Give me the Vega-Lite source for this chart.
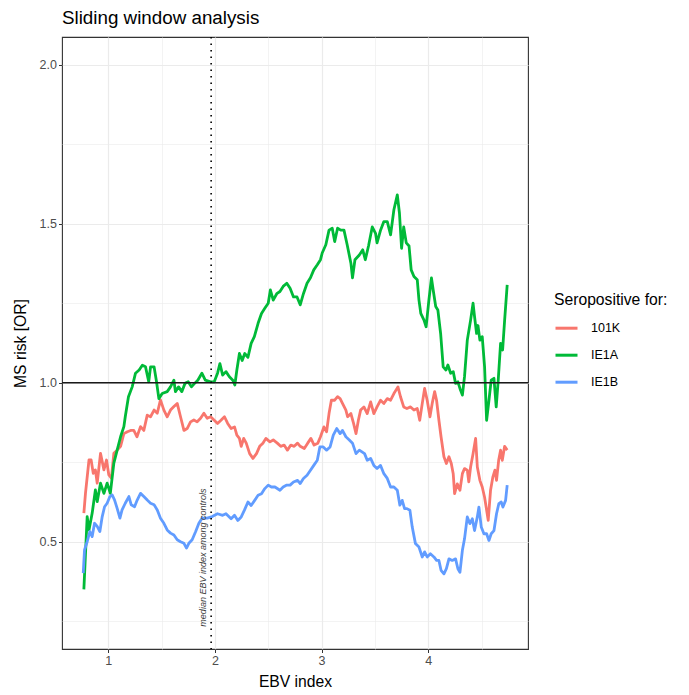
{
"$schema": "https://vega.github.io/schema/vega-lite/v6.json",
"width": 466, "height": 612,
"autosize": {"type": "none"},
"padding": {"left": 62, "top": 37, "right": 161, "bottom": 46},
"background": "white",
"title": {"text": "Sliding window analysis", "anchor": "start", "frame": "group", "fontSize": 18.8, "fontWeight": "normal", "font": "Liberation Sans", "color": "black", "offset": 8},
"config": {
 "view": {"stroke": "#333333", "strokeWidth": 1.1, "fill": "white"},
 "axis": {"domain": false, "gridColor": "#EBEBEB", "tickColor": "#333333", "tickSize": 3.5, "tickWidth": 1, "labelColor": "#4D4D4D", "labelFont": "Liberation Sans", "labelFontSize": 12.5, "labelPadding": 2, "titleFont": "Liberation Sans", "titleFontSize": 15.7, "titleFontWeight": "normal", "titleColor": "black"}
},
"layer": [
 {
  "data": {"values": [
{"s":"101K","x":0.772,"y":0.59},{"s":"101K","x":0.787,"y":0.652},{"s":"101K","x":0.82,"y":0.757},{"s":"101K","x":0.84,"y":0.757},{"s":"101K","x":0.86,"y":0.715},{"s":"101K","x":0.88,"y":0.726},{"s":"101K","x":0.897,"y":0.684},{"s":"101K","x":0.928,"y":0.778},{"s":"101K","x":0.96,"y":0.726},{"s":"101K","x":0.984,"y":0.757},{"s":"101K","x":1.006,"y":0.71},{"s":"101K","x":1.03,"y":0.7},{"s":"101K","x":1.053,"y":0.778},{"s":"101K","x":1.084,"y":0.788},{"s":"101K","x":1.116,"y":0.8},{"s":"101K","x":1.147,"y":0.84},{"s":"101K","x":1.18,"y":0.846},{"s":"101K","x":1.21,"y":0.85},{"s":"101K","x":1.24,"y":0.85},{"s":"101K","x":1.27,"y":0.83},{"s":"101K","x":1.303,"y":0.862},{"s":"101K","x":1.334,"y":0.85},{"s":"101K","x":1.366,"y":0.898},{"s":"101K","x":1.397,"y":0.893},{"s":"101K","x":1.43,"y":0.914},{"s":"101K","x":1.46,"y":0.904},{"s":"101K","x":1.49,"y":0.946},{"s":"101K","x":1.522,"y":0.914},{"s":"101K","x":1.553,"y":0.893},{"s":"101K","x":1.584,"y":0.914},{"s":"101K","x":1.616,"y":0.925},{"s":"101K","x":1.647,"y":0.935},{"s":"101K","x":1.678,"y":0.893},{"s":"101K","x":1.71,"y":0.85},{"s":"101K","x":1.74,"y":0.856},{"s":"101K","x":1.772,"y":0.877},{"s":"101K","x":1.803,"y":0.883},{"s":"101K","x":1.834,"y":0.877},{"s":"101K","x":1.866,"y":0.888},{"s":"101K","x":1.897,"y":0.904},{"s":"101K","x":1.928,"y":0.888},{"s":"101K","x":1.96,"y":0.893},{"s":"101K","x":1.994,"y":0.882},{"s":"101K","x":2.025,"y":0.872},{"s":"101K","x":2.057,"y":0.882},{"s":"101K","x":2.09,"y":0.893},{"s":"101K","x":2.12,"y":0.872},{"s":"101K","x":2.152,"y":0.856},{"s":"101K","x":2.184,"y":0.861},{"s":"101K","x":2.206,"y":0.835},{"s":"101K","x":2.23,"y":0.825},{"s":"101K","x":2.247,"y":0.8},{"s":"101K","x":2.27,"y":0.825},{"s":"101K","x":2.294,"y":0.81},{"s":"101K","x":2.326,"y":0.777},{"s":"101K","x":2.357,"y":0.762},{"s":"101K","x":2.39,"y":0.777},{"s":"101K","x":2.42,"y":0.8},{"s":"101K","x":2.45,"y":0.81},{"s":"101K","x":2.478,"y":0.825},{"s":"101K","x":2.516,"y":0.814},{"s":"101K","x":2.547,"y":0.82},{"s":"101K","x":2.585,"y":0.81},{"s":"101K","x":2.617,"y":0.8},{"s":"101K","x":2.649,"y":0.804},{"s":"101K","x":2.68,"y":0.788},{"s":"101K","x":2.712,"y":0.804},{"s":"101K","x":2.743,"y":0.8},{"s":"101K","x":2.775,"y":0.81},{"s":"101K","x":2.8,"y":0.8},{"s":"101K","x":2.838,"y":0.793},{"s":"101K","x":2.87,"y":0.81},{"s":"101K","x":2.9,"y":0.825},{"s":"101K","x":2.93,"y":0.804},{"s":"101K","x":2.965,"y":0.81},{"s":"101K","x":2.99,"y":0.83},{"s":"101K","x":3.022,"y":0.861},{"s":"101K","x":3.047,"y":0.846},{"s":"101K","x":3.07,"y":0.903},{"s":"101K","x":3.092,"y":0.945},{"s":"101K","x":3.123,"y":0.945},{"s":"101K","x":3.15,"y":0.956},{"s":"101K","x":3.174,"y":0.95},{"s":"101K","x":3.196,"y":0.935},{"s":"101K","x":3.228,"y":0.914},{"s":"101K","x":3.244,"y":0.893},{"s":"101K","x":3.275,"y":0.903},{"s":"101K","x":3.3,"y":0.872},{"s":"101K","x":3.323,"y":0.84},{"s":"101K","x":3.345,"y":0.882},{"s":"101K","x":3.366,"y":0.914},{"s":"101K","x":3.397,"y":0.924},{"s":"101K","x":3.428,"y":0.903},{"s":"101K","x":3.46,"y":0.94},{"s":"101K","x":3.49,"y":0.903},{"s":"101K","x":3.52,"y":0.924},{"s":"101K","x":3.553,"y":0.945},{"s":"101K","x":3.584,"y":0.935},{"s":"101K","x":3.616,"y":0.95},{"s":"101K","x":3.647,"y":0.945},{"s":"101K","x":3.678,"y":0.966},{"s":"101K","x":3.716,"y":0.987},{"s":"101K","x":3.74,"y":0.956},{"s":"101K","x":3.77,"y":0.924},{"s":"101K","x":3.8,"y":0.919},{"s":"101K","x":3.834,"y":0.924},{"s":"101K","x":3.866,"y":0.914},{"s":"101K","x":3.897,"y":0.919},{"s":"101K","x":3.92,"y":0.882},{"s":"101K","x":3.944,"y":0.935},{"s":"101K","x":3.966,"y":0.982},{"s":"101K","x":3.99,"y":0.945},{"s":"101K","x":4.016,"y":0.893},{"s":"101K","x":4.037,"y":0.935},{"s":"101K","x":4.06,"y":0.972},{"s":"101K","x":4.078,"y":0.945},{"s":"101K","x":4.1,"y":0.882},{"s":"101K","x":4.12,"y":0.83},{"s":"101K","x":4.147,"y":0.767},{"s":"101K","x":4.17,"y":0.746},{"s":"101K","x":4.194,"y":0.767},{"s":"101K","x":4.216,"y":0.746},{"s":"101K","x":4.234,"y":0.714},{"s":"101K","x":4.247,"y":0.651},{"s":"101K","x":4.272,"y":0.682},{"s":"101K","x":4.297,"y":0.662},{"s":"101K","x":4.32,"y":0.714},{"s":"101K","x":4.34,"y":0.73},{"s":"101K","x":4.366,"y":0.725},{"s":"101K","x":4.38,"y":0.688},{"s":"101K","x":4.397,"y":0.735},{"s":"101K","x":4.42,"y":0.777},{"s":"101K","x":4.444,"y":0.825},{"s":"101K","x":4.46,"y":0.735},{"s":"101K","x":4.484,"y":0.693},{"s":"101K","x":4.506,"y":0.672},{"s":"101K","x":4.528,"y":0.64},{"s":"101K","x":4.547,"y":0.6},{"s":"101K","x":4.562,"y":0.567},{"s":"101K","x":4.584,"y":0.662},{"s":"101K","x":4.606,"y":0.704},{"s":"101K","x":4.625,"y":0.725},{"s":"101K","x":4.64,"y":0.693},{"s":"101K","x":4.66,"y":0.756},{"s":"101K","x":4.678,"y":0.788},{"s":"101K","x":4.694,"y":0.756},{"s":"101K","x":4.716,"y":0.8},{"s":"101K","x":4.74,"y":0.788},
{"s":"IE1A","x":0.772,"y":0.35},{"s":"IE1A","x":0.803,"y":0.579},{"s":"IE1A","x":0.82,"y":0.537},{"s":"IE1A","x":0.85,"y":0.59},{"s":"IE1A","x":0.88,"y":0.663},{"s":"IE1A","x":0.897,"y":0.626},{"s":"IE1A","x":0.928,"y":0.684},{"s":"IE1A","x":0.96,"y":0.652},{"s":"IE1A","x":0.99,"y":0.684},{"s":"IE1A","x":1.02,"y":0.652},{"s":"IE1A","x":1.053,"y":0.747},{"s":"IE1A","x":1.084,"y":0.788},{"s":"IE1A","x":1.116,"y":0.83},{"s":"IE1A","x":1.147,"y":0.862},{"s":"IE1A","x":1.16,"y":0.893},{"s":"IE1A","x":1.19,"y":0.956},{"s":"IE1A","x":1.225,"y":0.987},{"s":"IE1A","x":1.256,"y":1.03},{"s":"IE1A","x":1.29,"y":1.04},{"s":"IE1A","x":1.32,"y":1.055},{"s":"IE1A","x":1.35,"y":1.05},{"s":"IE1A","x":1.38,"y":1.003},{"s":"IE1A","x":1.397,"y":1.05},{"s":"IE1A","x":1.43,"y":1.05},{"s":"IE1A","x":1.453,"y":1.003},{"s":"IE1A","x":1.475,"y":0.95},{"s":"IE1A","x":1.506,"y":0.966},{"s":"IE1A","x":1.553,"y":0.972},{"s":"IE1A","x":1.584,"y":0.987},{"s":"IE1A","x":1.616,"y":1.008},{"s":"IE1A","x":1.63,"y":0.972},{"s":"IE1A","x":1.66,"y":0.987},{"s":"IE1A","x":1.69,"y":0.972},{"s":"IE1A","x":1.72,"y":0.998},{"s":"IE1A","x":1.75,"y":1.003},{"s":"IE1A","x":1.78,"y":0.987},{"s":"IE1A","x":1.81,"y":0.998},{"s":"IE1A","x":1.84,"y":1.008},{"s":"IE1A","x":1.878,"y":1.03},{"s":"IE1A","x":1.91,"y":1.008},{"s":"IE1A","x":1.96,"y":1.003},{"s":"IE1A","x":1.994,"y":1.003},{"s":"IE1A","x":2.025,"y":1.03},{"s":"IE1A","x":2.047,"y":1.06},{"s":"IE1A","x":2.073,"y":1.024},{"s":"IE1A","x":2.104,"y":1.035},{"s":"IE1A","x":2.136,"y":1.019},{"s":"IE1A","x":2.168,"y":1.008},{"s":"IE1A","x":2.187,"y":0.993},{"s":"IE1A","x":2.206,"y":1.04},{"s":"IE1A","x":2.23,"y":1.092},{"s":"IE1A","x":2.256,"y":1.07},{"s":"IE1A","x":2.28,"y":1.092},{"s":"IE1A","x":2.31,"y":1.08},{"s":"IE1A","x":2.34,"y":1.124},{"s":"IE1A","x":2.37,"y":1.145},{"s":"IE1A","x":2.405,"y":1.187},{"s":"IE1A","x":2.437,"y":1.218},{"s":"IE1A","x":2.468,"y":1.234},{"s":"IE1A","x":2.5,"y":1.25},{"s":"IE1A","x":2.52,"y":1.292},{"s":"IE1A","x":2.547,"y":1.26},{"s":"IE1A","x":2.58,"y":1.28},{"s":"IE1A","x":2.61,"y":1.287},{"s":"IE1A","x":2.64,"y":1.303},{"s":"IE1A","x":2.674,"y":1.313},{"s":"IE1A","x":2.705,"y":1.297},{"s":"IE1A","x":2.737,"y":1.27},{"s":"IE1A","x":2.77,"y":1.27},{"s":"IE1A","x":2.8,"y":1.245},{"s":"IE1A","x":2.83,"y":1.28},{"s":"IE1A","x":2.864,"y":1.313},{"s":"IE1A","x":2.896,"y":1.33},{"s":"IE1A","x":2.927,"y":1.355},{"s":"IE1A","x":2.96,"y":1.371},{"s":"IE1A","x":2.99,"y":1.387},{"s":"IE1A","x":3.006,"y":1.408},{"s":"IE1A","x":3.04,"y":1.434},{"s":"IE1A","x":3.07,"y":1.48},{"s":"IE1A","x":3.1,"y":1.486},{"s":"IE1A","x":3.123,"y":1.444},{"s":"IE1A","x":3.15,"y":1.486},{"s":"IE1A","x":3.18,"y":1.48},{"s":"IE1A","x":3.21,"y":1.48},{"s":"IE1A","x":3.24,"y":1.434},{"s":"IE1A","x":3.275,"y":1.376},{"s":"IE1A","x":3.29,"y":1.33},{"s":"IE1A","x":3.313,"y":1.387},{"s":"IE1A","x":3.354,"y":1.402},{"s":"IE1A","x":3.386,"y":1.418},{"s":"IE1A","x":3.41,"y":1.387},{"s":"IE1A","x":3.44,"y":1.43},{"s":"IE1A","x":3.475,"y":1.49},{"s":"IE1A","x":3.506,"y":1.47},{"s":"IE1A","x":3.52,"y":1.44},{"s":"IE1A","x":3.553,"y":1.48},{"s":"IE1A","x":3.584,"y":1.507},{"s":"IE1A","x":3.616,"y":1.507},{"s":"IE1A","x":3.647,"y":1.465},{"s":"IE1A","x":3.678,"y":1.544},{"s":"IE1A","x":3.71,"y":1.591},{"s":"IE1A","x":3.73,"y":1.534},{"s":"IE1A","x":3.75,"y":1.423},{"s":"IE1A","x":3.77,"y":1.49},{"s":"IE1A","x":3.794,"y":1.44},{"s":"IE1A","x":3.82,"y":1.43},{"s":"IE1A","x":3.84,"y":1.355},{"s":"IE1A","x":3.866,"y":1.334},{"s":"IE1A","x":3.897,"y":1.324},{"s":"IE1A","x":3.913,"y":1.26},{"s":"IE1A","x":3.93,"y":1.218},{"s":"IE1A","x":3.96,"y":1.197},{"s":"IE1A","x":3.98,"y":1.176},{"s":"IE1A","x":4.006,"y":1.26},{"s":"IE1A","x":4.03,"y":1.33},{"s":"IE1A","x":4.047,"y":1.29},{"s":"IE1A","x":4.07,"y":1.24},{"s":"IE1A","x":4.09,"y":1.229},{"s":"IE1A","x":4.116,"y":1.155},{"s":"IE1A","x":4.14,"y":1.05},{"s":"IE1A","x":4.166,"y":1.04},{"s":"IE1A","x":4.184,"y":1.056},{"s":"IE1A","x":4.21,"y":1.03},{"s":"IE1A","x":4.234,"y":1.035},{"s":"IE1A","x":4.256,"y":0.998},{"s":"IE1A","x":4.278,"y":1.003},{"s":"IE1A","x":4.297,"y":0.982},{"s":"IE1A","x":4.32,"y":0.961},{"s":"IE1A","x":4.34,"y":1.019},{"s":"IE1A","x":4.366,"y":1.134},{"s":"IE1A","x":4.397,"y":1.197},{"s":"IE1A","x":4.42,"y":1.25},{"s":"IE1A","x":4.434,"y":1.208},{"s":"IE1A","x":4.453,"y":1.155},{"s":"IE1A","x":4.466,"y":1.18},{"s":"IE1A","x":4.484,"y":1.134},{"s":"IE1A","x":4.506,"y":1.145},{"s":"IE1A","x":4.528,"y":1.05},{"s":"IE1A","x":4.547,"y":0.882},{"s":"IE1A","x":4.569,"y":0.945},{"s":"IE1A","x":4.59,"y":1.008},{"s":"IE1A","x":4.616,"y":1.014},{"s":"IE1A","x":4.637,"y":0.924},{"s":"IE1A","x":4.656,"y":1.008},{"s":"IE1A","x":4.678,"y":1.124},{"s":"IE1A","x":4.697,"y":1.103},{"s":"IE1A","x":4.716,"y":1.197},{"s":"IE1A","x":4.74,"y":1.308},
{"s":"IE1B","x":0.766,"y":0.401},{"s":"IE1B","x":0.778,"y":0.474},{"s":"IE1B","x":0.803,"y":0.5},{"s":"IE1B","x":0.828,"y":0.532},{"s":"IE1B","x":0.85,"y":0.516},{"s":"IE1B","x":0.872,"y":0.558},{"s":"IE1B","x":0.897,"y":0.548},{"s":"IE1B","x":0.922,"y":0.532},{"s":"IE1B","x":0.944,"y":0.579},{"s":"IE1B","x":0.966,"y":0.61},{"s":"IE1B","x":0.99,"y":0.621},{"s":"IE1B","x":1.016,"y":0.642},{"s":"IE1B","x":1.038,"y":0.647},{"s":"IE1B","x":1.06,"y":0.631},{"s":"IE1B","x":1.084,"y":0.605},{"s":"IE1B","x":1.11,"y":0.574},{"s":"IE1B","x":1.13,"y":0.6},{"s":"IE1B","x":1.16,"y":0.621},{"s":"IE1B","x":1.194,"y":0.642},{"s":"IE1B","x":1.216,"y":0.616},{"s":"IE1B","x":1.247,"y":0.61},{"s":"IE1B","x":1.272,"y":0.631},{"s":"IE1B","x":1.303,"y":0.652},{"s":"IE1B","x":1.334,"y":0.642},{"s":"IE1B","x":1.366,"y":0.631},{"s":"IE1B","x":1.397,"y":0.621},{"s":"IE1B","x":1.43,"y":0.616},{"s":"IE1B","x":1.46,"y":0.6},{"s":"IE1B","x":1.49,"y":0.574},{"s":"IE1B","x":1.522,"y":0.558},{"s":"IE1B","x":1.553,"y":0.537},{"s":"IE1B","x":1.584,"y":0.527},{"s":"IE1B","x":1.616,"y":0.521},{"s":"IE1B","x":1.647,"y":0.506},{"s":"IE1B","x":1.678,"y":0.5},{"s":"IE1B","x":1.71,"y":0.495},{"s":"IE1B","x":1.734,"y":0.48},{"s":"IE1B","x":1.756,"y":0.495},{"s":"IE1B","x":1.787,"y":0.506},{"s":"IE1B","x":1.82,"y":0.532},{"s":"IE1B","x":1.85,"y":0.558},{"s":"IE1B","x":1.88,"y":0.574},{"s":"IE1B","x":1.928,"y":0.574},{"s":"IE1B","x":1.975,"y":0.579},{"s":"IE1B","x":2.025,"y":0.588},{"s":"IE1B","x":2.073,"y":0.583},{"s":"IE1B","x":2.104,"y":0.588},{"s":"IE1B","x":2.152,"y":0.572},{"s":"IE1B","x":2.184,"y":0.583},{"s":"IE1B","x":2.215,"y":0.567},{"s":"IE1B","x":2.247,"y":0.578},{"s":"IE1B","x":2.278,"y":0.6},{"s":"IE1B","x":2.31,"y":0.625},{"s":"IE1B","x":2.34,"y":0.614},{"s":"IE1B","x":2.373,"y":0.63},{"s":"IE1B","x":2.405,"y":0.646},{"s":"IE1B","x":2.437,"y":0.651},{"s":"IE1B","x":2.468,"y":0.667},{"s":"IE1B","x":2.5,"y":0.678},{"s":"IE1B","x":2.53,"y":0.672},{"s":"IE1B","x":2.563,"y":0.672},{"s":"IE1B","x":2.61,"y":0.662},{"s":"IE1B","x":2.64,"y":0.672},{"s":"IE1B","x":2.674,"y":0.678},{"s":"IE1B","x":2.705,"y":0.678},{"s":"IE1B","x":2.737,"y":0.688},{"s":"IE1B","x":2.775,"y":0.693},{"s":"IE1B","x":2.8,"y":0.683},{"s":"IE1B","x":2.83,"y":0.699},{"s":"IE1B","x":2.864,"y":0.709},{"s":"IE1B","x":2.896,"y":0.725},{"s":"IE1B","x":2.927,"y":0.74},{"s":"IE1B","x":2.96,"y":0.756},{"s":"IE1B","x":2.984,"y":0.798},{"s":"IE1B","x":3.016,"y":0.798},{"s":"IE1B","x":3.047,"y":0.788},{"s":"IE1B","x":3.08,"y":0.798},{"s":"IE1B","x":3.11,"y":0.835},{"s":"IE1B","x":3.142,"y":0.856},{"s":"IE1B","x":3.174,"y":0.84},{"s":"IE1B","x":3.196,"y":0.85},{"s":"IE1B","x":3.228,"y":0.83},{"s":"IE1B","x":3.26,"y":0.82},{"s":"IE1B","x":3.29,"y":0.81},{"s":"IE1B","x":3.323,"y":0.777},{"s":"IE1B","x":3.354,"y":0.788},{"s":"IE1B","x":3.403,"y":0.777},{"s":"IE1B","x":3.428,"y":0.756},{"s":"IE1B","x":3.46,"y":0.762},{"s":"IE1B","x":3.49,"y":0.74},{"s":"IE1B","x":3.52,"y":0.73},{"s":"IE1B","x":3.553,"y":0.74},{"s":"IE1B","x":3.584,"y":0.714},{"s":"IE1B","x":3.616,"y":0.699},{"s":"IE1B","x":3.647,"y":0.672},{"s":"IE1B","x":3.678,"y":0.672},{"s":"IE1B","x":3.71,"y":0.662},{"s":"IE1B","x":3.734,"y":0.615},{"s":"IE1B","x":3.756,"y":0.63},{"s":"IE1B","x":3.778,"y":0.604},{"s":"IE1B","x":3.8,"y":0.604},{"s":"IE1B","x":3.828,"y":0.599},{"s":"IE1B","x":3.85,"y":0.546},{"s":"IE1B","x":3.88,"y":0.494},{"s":"IE1B","x":3.913,"y":0.483},{"s":"IE1B","x":3.944,"y":0.452},{"s":"IE1B","x":3.966,"y":0.468},{"s":"IE1B","x":3.99,"y":0.452},{"s":"IE1B","x":4.02,"y":0.462},{"s":"IE1B","x":4.053,"y":0.452},{"s":"IE1B","x":4.078,"y":0.441},{"s":"IE1B","x":4.1,"y":0.441},{"s":"IE1B","x":4.12,"y":0.41},{"s":"IE1B","x":4.147,"y":0.399},{"s":"IE1B","x":4.17,"y":0.415},{"s":"IE1B","x":4.194,"y":0.446},{"s":"IE1B","x":4.225,"y":0.441},{"s":"IE1B","x":4.256,"y":0.446},{"s":"IE1B","x":4.278,"y":0.415},{"s":"IE1B","x":4.297,"y":0.404},{"s":"IE1B","x":4.32,"y":0.473},{"s":"IE1B","x":4.34,"y":0.509},{"s":"IE1B","x":4.366,"y":0.578},{"s":"IE1B","x":4.39,"y":0.557},{"s":"IE1B","x":4.413,"y":0.572},{"s":"IE1B","x":4.434,"y":0.535},{"s":"IE1B","x":4.46,"y":0.578},{"s":"IE1B","x":4.475,"y":0.609},{"s":"IE1B","x":4.497,"y":0.546},{"s":"IE1B","x":4.522,"y":0.525},{"s":"IE1B","x":4.547,"y":0.525},{"s":"IE1B","x":4.569,"y":0.504},{"s":"IE1B","x":4.59,"y":0.525},{"s":"IE1B","x":4.616,"y":0.535},{"s":"IE1B","x":4.64,"y":0.588},{"s":"IE1B","x":4.662,"y":0.62},{"s":"IE1B","x":4.684,"y":0.625},{"s":"IE1B","x":4.7,"y":0.609},{"s":"IE1B","x":4.725,"y":0.63},{"s":"IE1B","x":4.74,"y":0.678}
  ]},
  "mark": {"type": "line", "strokeWidth": 2.8, "strokeJoin": "round"},
  "encoding": {
   "x": {"field": "x", "type": "quantitative", "scale": {"domain": [0.567, 4.935], "nice": false, "zero": false},
     "axis": {"title": "EBV index", "titlePadding": 7, "values": [1, 1.5, 2, 2.5, 3, 3.5, 4, 4.5],
       "labelExpr": "datum.value % 1 === 0 ? format(datum.value, 'd') : ''",
       "tickOpacity": {"condition": {"test": "datum.value % 1 !== 0", "value": 0}, "value": 1},
       "gridWidth": {"condition": {"test": "datum.value % 1 !== 0", "value": 0.6}, "value": 1.2}}},
   "y": {"field": "y", "type": "quantitative", "scale": {"domain": [0.1625, 2.0875], "nice": false, "zero": false},
     "axis": {"title": "MS risk [OR]", "titlePadding": 11, "values": [0.25, 0.5, 0.75, 1, 1.25, 1.5, 1.75, 2],
       "labelExpr": "datum.value % 0.5 === 0 ? format(datum.value, '.1f') : ''",
       "tickOpacity": {"condition": {"test": "datum.value % 0.5 !== 0", "value": 0}, "value": 1},
       "gridWidth": {"condition": {"test": "datum.value % 0.5 !== 0", "value": 0.6}, "value": 1.2}}},
   "color": {"field": "s", "type": "nominal", "scale": {"domain": ["101K", "IE1A", "IE1B"], "range": ["#F8766D", "#00BA38", "#619CFF"]},
     "legend": {"title": "Seropositive for:", "orient": "none", "legendX": 492, "legendY": 256, "symbolType": "stroke", "symbolSize": 484, "symbolStrokeWidth": 3, "labelFontSize": 12.5, "labelFont": "Liberation Sans", "labelColor": "black", "titleFontSize": 15.7, "titleFont": "Liberation Sans", "titleFontWeight": "normal", "titleColor": "black", "titlePadding": 7, "rowPadding": 8, "labelOffset": 12, "padding": 0}}
  }
 },
 {
  "data": {"values": [{}]},
  "mark": {"type": "rule", "color": "#1a1a1a", "strokeWidth": 1.6},
  "encoding": {"y": {"datum": 1}}
 },
 {
  "data": {"values": [{}]},
  "mark": {"type": "rule", "color": "black", "strokeWidth": 1.6, "strokeDash": [1.5, 5]},
  "encoding": {"x": {"datum": 1.965}}
 },
 {
  "data": {"values": [{"label": "median EBV index among controls"}]},
  "mark": {"type": "text", "angle": 270, "align": "center", "baseline": "middle", "font": "Liberation Sans", "fontStyle": "italic", "fontSize": 9, "color": "#3d3d3d"},
  "encoding": {"x": {"datum": 1.89}, "y": {"datum": 0.45}, "text": {"field": "label"}}
 }
]
}
